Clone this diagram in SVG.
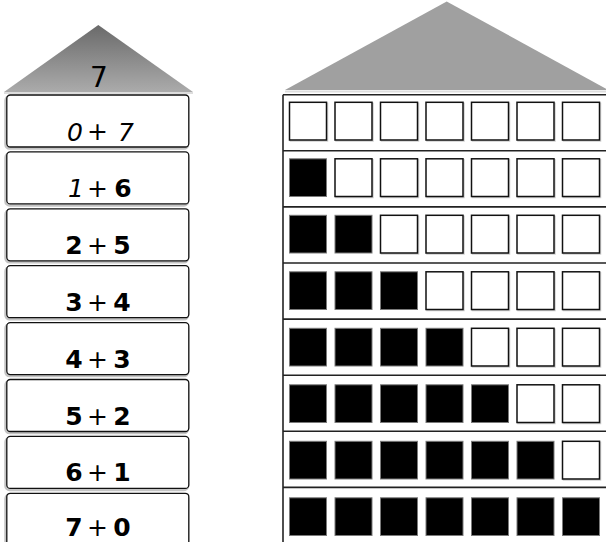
<svg xmlns="http://www.w3.org/2000/svg" xmlns:xlink="http://www.w3.org/1999/xlink" width="606" height="542" viewBox="0 0 606 542">
<style>
.bx{fill:#fff;stroke:#111;stroke-width:1.3}
.bxs{fill:none;stroke:#c4c4c4;stroke-width:2.5}
.sep{stroke:#222;stroke-width:1.6;fill:none}
.e{fill:#fff;stroke:#111;stroke-width:1.5}
.es{fill:none;stroke:#cfcfcf;stroke-width:1.5}
.f{fill:#000;stroke:#7a7a7a;stroke-width:1}
.t{font-family:"DejaVu Sans",sans-serif;font-size:25px;fill:#000;text-anchor:middle}
.b{font-weight:bold}
.i{font-style:italic}
.r{font-size:28px}
</style>
<defs>
<linearGradient id="roofGrad" x1="0" y1="0" x2="0" y2="1">
<stop offset="0" stop-color="#6a6a6a"/>
<stop offset="1" stop-color="#ababab"/>
</linearGradient>
<g id="box">
<rect class="bxs" x="5.5" y="1.5" width="182.5" height="52" rx="4"/>
<rect class="bx" x="6.8" y="0" width="182" height="52" rx="3.5"/>
</g>
<g id="sqE">
<rect class="es" x="1" y="1" width="37" height="37.7"/>
<rect class="e" x="0" y="0" width="37" height="37.7"/>
</g>
<g id="sqF">
<rect class="f" x="0" y="0" width="37" height="37.7"/>
</g>
</defs>

<g id="roof-left">
<line x1="4" y1="93" x2="193" y2="93" stroke="#dddddd" stroke-width="2"/>
<polygon points="98.3,25 193,92 4,92" fill="url(#roofGrad)"/>
<text class="t r" x="99" y="87">7</text>
</g>

<g id="box-0">
<use xlink:href="#box" y="95"/>
<text class="t i" x="75" y="140.5">0</text>
<text class="t" x="97.5" y="140">+</text>
<text class="t i" x="126" y="140.5">7</text>
</g>
<g id="box-1">
<use xlink:href="#box" y="151.9"/>
<text class="t i" x="76" y="196.9">1</text>
<text class="t" x="97.5" y="196.9">+</text>
<text class="t b" x="123" y="196.9">6</text>
</g>
<g id="box-2">
<use xlink:href="#box" y="208.8"/>
<text class="t b" x="74" y="253.8">2</text>
<text class="t" x="97.5" y="253.8">+</text>
<text class="t b" x="122" y="253.8">5</text>
</g>
<g id="box-3">
<use xlink:href="#box" y="265.7"/>
<text class="t b" x="74" y="310.7">3</text>
<text class="t" x="97.5" y="310.7">+</text>
<text class="t b" x="122" y="310.7">4</text>
</g>
<g id="box-4">
<use xlink:href="#box" y="322.6"/>
<text class="t b" x="74" y="367.6">4</text>
<text class="t" x="97.5" y="367.6">+</text>
<text class="t b" x="122" y="367.6">3</text>
</g>
<g id="box-5">
<use xlink:href="#box" y="379.5"/>
<text class="t b" x="74" y="424.5">5</text>
<text class="t" x="97.5" y="424.5">+</text>
<text class="t b" x="122" y="424.5">2</text>
</g>
<g id="box-6">
<use xlink:href="#box" y="436.4"/>
<text class="t b" x="74" y="481.4">6</text>
<text class="t" x="97.5" y="481.4">+</text>
<text class="t b" x="122" y="481.4">1</text>
</g>
<g id="box-7">
<use xlink:href="#box" y="493.3"/>
<text class="t b" x="74" y="536">7</text>
<text class="t" x="97.5" y="536">+</text>
<text class="t b" x="122" y="536">0</text>
</g>

<g id="roof-right">
<line x1="285" y1="91.5" x2="606" y2="91.5" stroke="#dddddd" stroke-width="2"/>
<polygon points="446.7,1.5 608.5,90 285,90" fill="#a0a0a0"/>
</g>

<g id="grid-frame">
<line class="sep" x1="283" y1="94.7" x2="283" y2="542"/>
<line class="sep" x1="283" y1="94.7" x2="606" y2="94.7"/>
<line class="sep" x1="283" y1="150.8" x2="606" y2="150.8"/>
<line class="sep" x1="283" y1="206.9" x2="606" y2="206.9"/>
<line class="sep" x1="283" y1="263" x2="606" y2="263"/>
<line class="sep" x1="283" y1="319.1" x2="606" y2="319.1"/>
<line class="sep" x1="283" y1="375.2" x2="606" y2="375.2"/>
<line class="sep" x1="283" y1="431.3" x2="606" y2="431.3"/>
<line class="sep" x1="283" y1="487.4" x2="606" y2="487.4"/>
</g>

<g id="row-0">
<use xlink:href="#sqE" x="289.5" y="102.3"/><use xlink:href="#sqE" x="335" y="102.3"/><use xlink:href="#sqE" x="380.5" y="102.3"/><use xlink:href="#sqE" x="426" y="102.3"/><use xlink:href="#sqE" x="471.5" y="102.3"/><use xlink:href="#sqE" x="517" y="102.3"/><use xlink:href="#sqE" x="562.5" y="102.3"/>
</g>
<g id="row-1">
<use xlink:href="#sqF" x="289.5" y="158.8"/><use xlink:href="#sqE" x="335" y="158.8"/><use xlink:href="#sqE" x="380.5" y="158.8"/><use xlink:href="#sqE" x="426" y="158.8"/><use xlink:href="#sqE" x="471.5" y="158.8"/><use xlink:href="#sqE" x="517" y="158.8"/><use xlink:href="#sqE" x="562.5" y="158.8"/>
</g>
<g id="row-2">
<use xlink:href="#sqF" x="289.5" y="215.3"/><use xlink:href="#sqF" x="335" y="215.3"/><use xlink:href="#sqE" x="380.5" y="215.3"/><use xlink:href="#sqE" x="426" y="215.3"/><use xlink:href="#sqE" x="471.5" y="215.3"/><use xlink:href="#sqE" x="517" y="215.3"/><use xlink:href="#sqE" x="562.5" y="215.3"/>
</g>
<g id="row-3">
<use xlink:href="#sqF" x="289.5" y="271.8"/><use xlink:href="#sqF" x="335" y="271.8"/><use xlink:href="#sqF" x="380.5" y="271.8"/><use xlink:href="#sqE" x="426" y="271.8"/><use xlink:href="#sqE" x="471.5" y="271.8"/><use xlink:href="#sqE" x="517" y="271.8"/><use xlink:href="#sqE" x="562.5" y="271.8"/>
</g>
<g id="row-4">
<use xlink:href="#sqF" x="289.5" y="328.3"/><use xlink:href="#sqF" x="335" y="328.3"/><use xlink:href="#sqF" x="380.5" y="328.3"/><use xlink:href="#sqF" x="426" y="328.3"/><use xlink:href="#sqE" x="471.5" y="328.3"/><use xlink:href="#sqE" x="517" y="328.3"/><use xlink:href="#sqE" x="562.5" y="328.3"/>
</g>
<g id="row-5">
<use xlink:href="#sqF" x="289.5" y="384.8"/><use xlink:href="#sqF" x="335" y="384.8"/><use xlink:href="#sqF" x="380.5" y="384.8"/><use xlink:href="#sqF" x="426" y="384.8"/><use xlink:href="#sqF" x="471.5" y="384.8"/><use xlink:href="#sqE" x="517" y="384.8"/><use xlink:href="#sqE" x="562.5" y="384.8"/>
</g>
<g id="row-6">
<use xlink:href="#sqF" x="289.5" y="441.3"/><use xlink:href="#sqF" x="335" y="441.3"/><use xlink:href="#sqF" x="380.5" y="441.3"/><use xlink:href="#sqF" x="426" y="441.3"/><use xlink:href="#sqF" x="471.5" y="441.3"/><use xlink:href="#sqF" x="517" y="441.3"/><use xlink:href="#sqE" x="562.5" y="441.3"/>
</g>
<g id="row-7">
<use xlink:href="#sqF" x="289.5" y="497.8"/><use xlink:href="#sqF" x="335" y="497.8"/><use xlink:href="#sqF" x="380.5" y="497.8"/><use xlink:href="#sqF" x="426" y="497.8"/><use xlink:href="#sqF" x="471.5" y="497.8"/><use xlink:href="#sqF" x="517" y="497.8"/><use xlink:href="#sqF" x="562.5" y="497.8"/>
</g>
</svg>
